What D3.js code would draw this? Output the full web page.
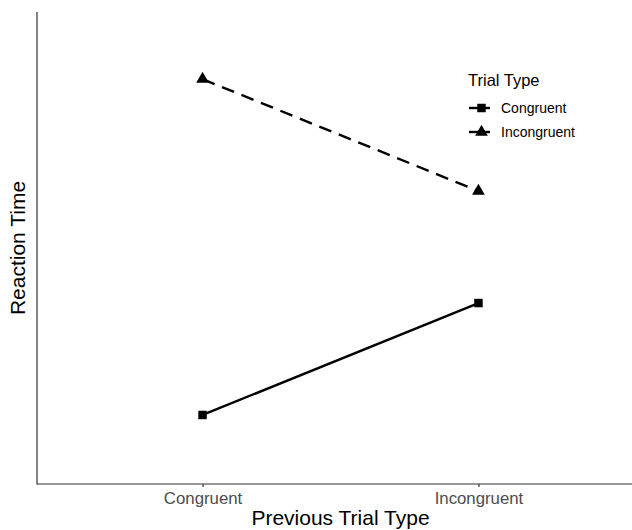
<!DOCTYPE html>
<html>
<head>
<meta charset="utf-8">
<script src="https://cdn.jsdelivr.net/npm/d3@7"></script>
<style>
  html, body { margin: 0; padding: 0; background: #fff; }
  svg { display: block; font-family: "Liberation Sans", Arial, sans-serif; }
</style>
</head>
<body>
<svg id="chart" width="632" height="530"></svg>
<script>
// Previous-trial categories on the x axis
const previousTrialTypes = ["Congruent", "Incongruent"];
// Current trial type series (mean reaction time, ms)
const seriesNames = ["Congruent", "Incongruent"];
const congruentRT = [520, 550];
const incongruentRT = [610, 580];
const yDomain = [501.5, 628];

const series = [
  { name: seriesNames[0], values: congruentRT, dash: null, symbol: d3.symbolSquare, size: 72 },
  { name: seriesNames[1], values: incongruentRT, dash: "13,8", symbol: d3.symbolTriangle, size: 70 }
];

const svg = d3.select("#chart");
const W = 632, H = 530;
const panel = { left: 37, right: 644, top: 12, bottom: 484 };

// Discrete x positions with 0.6-unit expansion on each side
const x = d3.scalePoint()
  .domain(previousTrialTypes)
  .range([panel.left, panel.right])
  .padding(0.6);
const y = d3.scaleLinear().domain(yDomain).range([panel.bottom, panel.top]);

// Axis lines
const axisColor = "#333333";
svg.append("line")
  .attr("x1", panel.left).attr("x2", panel.left)
  .attr("y1", panel.top).attr("y2", panel.bottom + 0.5)
  .attr("stroke", axisColor).attr("stroke-width", 1.2);

const xAxis = d3.axisBottom(x).tickSize(3).tickPadding(5);
const gx = svg.append("g").attr("transform", `translate(0,${panel.bottom})`).call(xAxis);
gx.select(".domain").remove();
gx.append("line")
  .attr("x1", panel.left).attr("x2", W)
  .attr("stroke", axisColor).attr("stroke-width", 1.2);
gx.selectAll(".tick line").attr("stroke", axisColor).attr("stroke-width", 1.2);
gx.selectAll(".tick text")
  .attr("fill", "#4d4d4d")
  .attr("font-size", 16.8)
  .attr("font-family", "Liberation Sans, Arial, sans-serif");

// Axis titles
svg.append("text")
  .attr("x", (panel.left + panel.right) / 2)
  .attr("y", 525)
  .attr("text-anchor", "middle")
  .attr("font-size", 21)
  .attr("fill", "#000")
  .text("Previous Trial Type");

svg.append("text")
  .attr("transform", `translate(25,${(panel.top + panel.bottom) / 2}) rotate(-90)`)
  .attr("text-anchor", "middle")
  .attr("font-size", 21)
  .attr("fill", "#000")
  .text("Reaction Time");

// Lines and point markers
const line = d3.line()
  .x((d, i) => x(previousTrialTypes[i]))
  .y(d => y(d));

series.forEach(s => {
  svg.append("path")
    .datum(s.values)
    .attr("d", line)
    .attr("fill", "none")
    .attr("stroke", "#000")
    .attr("stroke-width", 2.4)
    .attr("stroke-dasharray", s.dash);

  svg.selectAll(null)
    .data(s.values)
    .enter()
    .append("path")
    .attr("d", d3.symbol().type(s.symbol).size(s.size))
    .attr("transform", (d, i) => `translate(${x(previousTrialTypes[i])},${y(d)})`)
    .attr("fill", "#000");
});

// Legend
const legend = svg.append("g").attr("transform", "translate(468,0)");
legend.append("text")
  .attr("x", 0).attr("y", 86)
  .attr("font-size", 16.5)
  .attr("fill", "#000")
  .text("Trial Type");

series.forEach((s, i) => {
  const cy = 108 + i * 24;
  legend.append("line")
    .attr("x1", 1).attr("x2", 22)
    .attr("y1", cy).attr("y2", cy)
    .attr("stroke", "#000").attr("stroke-width", 2.4);
  legend.append("path")
    .attr("d", d3.symbol().type(s.symbol).size(s.size))
    .attr("transform", `translate(13.5,${cy})`)
    .attr("fill", "#000");
  legend.append("text")
    .attr("x", 33).attr("y", cy + 5)
    .attr("font-size", 14)
    .attr("fill", "#000")
    .text(s.name);
});
</script>
</body>
</html>
